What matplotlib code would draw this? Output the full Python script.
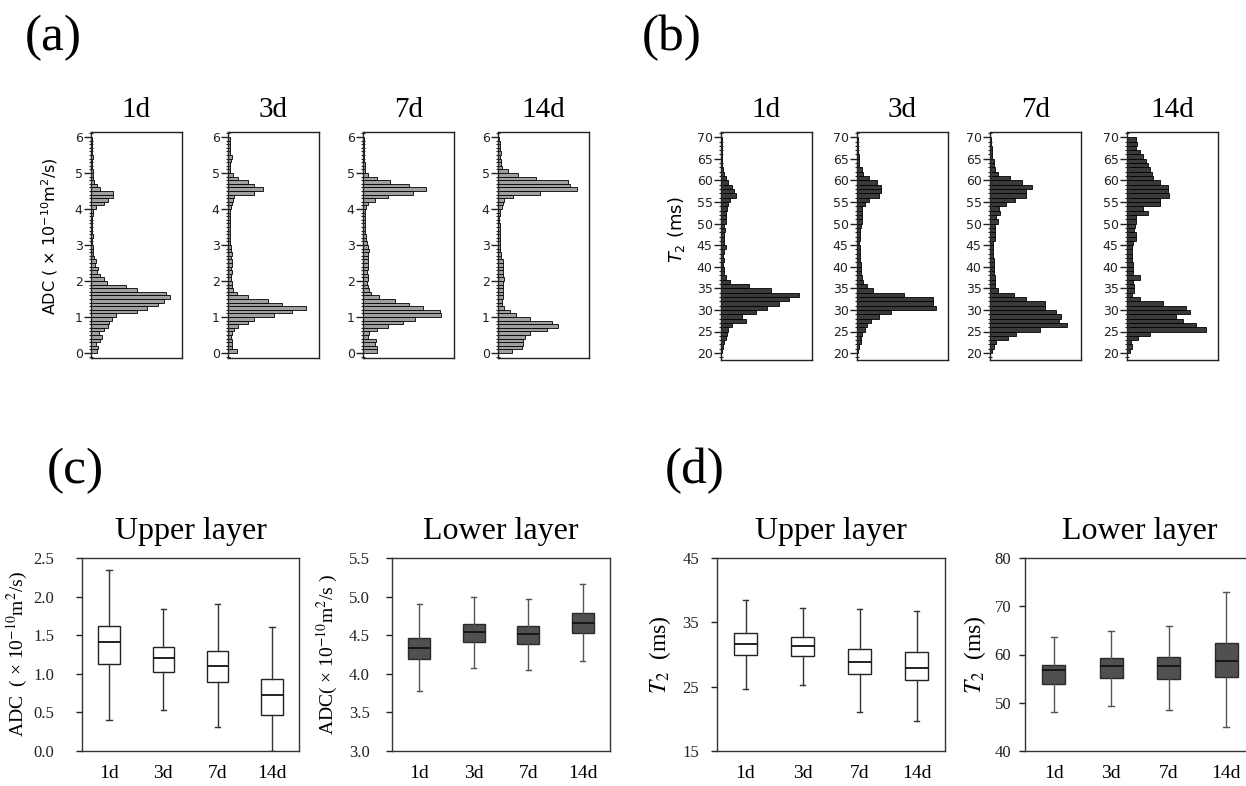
import matplotlib
matplotlib.use('Agg')
import matplotlib.pyplot as plt
import numpy as np
from matplotlib.ticker import MultipleLocator

W, H = 1246, 786
fig = plt.figure(figsize=(W / 100, H / 100), dpi=100)

SERIF = 'Liberation Serif'
SANS = 'DejaVu Sans'

days = ['1d', '3d', '7d', '14d']

# ---------------- (a) ADC histograms: bins of 0.1 from 0 to 6 ----------------
adc_bin_width = 0.1
adc_hist_1d = [7, 8, 6, 10, 12, 9, 14, 19, 20, 23,
               27, 50, 62, 74, 80, 87, 82, 50, 38, 18,
               14, 10, 7, 8, 4, 5, 3, 2, 2, 2,
               1, 1, 2, 1, 1, 1, 1, 1, 2, 2,
               5, 14, 19, 24, 24, 10, 7, 3, 2, 2,
               2, 1, 1, 1, 2, 1, 1, 1, 1, 1]
adc_hist_3d = [10, 4, 4, 4, 3, 4, 7, 11, 22, 29,
               51, 70, 86, 59, 44, 22, 10, 5, 4, 4,
               3, 3, 4, 3, 4, 4, 3, 4, 3, 3,
               2, 2, 2, 2, 2, 2, 2, 2, 2, 2,
               3, 4, 5, 7, 29, 38, 29, 22, 11, 5,
               2, 2, 2, 3, 4, 2, 2, 2, 2, 2]
adc_hist_7d = [15, 15, 13, 14, 6, 7, 15, 28, 44, 57,
               86, 85, 66, 51, 35, 18, 9, 7, 6, 4,
               5, 6, 4, 6, 5, 6, 5, 6, 7, 5,
               4, 3, 3, 2, 2, 2, 2, 2, 2, 2,
               3, 6, 13, 28, 55, 69, 51, 30, 15, 5,
               2, 2, 2, 1, 1, 1, 1, 1, 1, 1]
adc_hist_14d = [15, 26, 28, 28, 30, 35, 54, 66, 59, 35,
                20, 13, 7, 4, 4, 5, 5, 6, 5, 6,
                7, 6, 6, 5, 5, 6, 3, 3, 2, 2,
                2, 2, 2, 2, 2, 2, 1, 1, 2, 2,
                4, 5, 7, 17, 46, 87, 79, 77, 42, 22,
                11, 4, 3, 3, 2, 3, 2, 2, 2, 1]
adc_hists = [adc_hist_1d, adc_hist_3d, adc_hist_7d, adc_hist_14d]

# ---------------- (b) T2 histograms: bins of 1 ms from 20 to 70 ----------------
t2_bin_start = 20
t2_bin_width = 1.0
t2_hist_1d = [1, 2, 3, 5, 7, 8, 12, 27, 23, 38,
              51, 64, 75, 86, 55, 31, 10, 5, 3, 3,
              2, 3, 2, 3, 5, 3, 3, 3, 4, 3,
              5, 5, 6, 7, 8, 10, 17, 14, 12, 8,
              5, 3, 2, 1, 1, 1, 1, 1, 1, 1]
t2_hist_3d = [1, 2, 4, 4, 5, 9, 11, 15, 24, 37,
              87, 83, 83, 52, 18, 11, 7, 5, 4, 4,
              4, 3, 3, 3, 3, 2, 3, 3, 3, 4,
              5, 5, 6, 6, 9, 13, 24, 26, 26, 22,
              13, 7, 5, 2, 2, 2, 1, 1, 1, 1]
t2_hist_7d = [2, 4, 7, 20, 29, 55, 85, 76, 78, 72,
              60, 60, 40, 26, 9, 6, 6, 5, 4, 4,
              4, 4, 3, 3, 3, 3, 5, 5, 6, 5,
              9, 7, 11, 10, 18, 27, 40, 40, 46, 35,
              22, 9, 5, 4, 4, 2, 2, 2, 1, 1]
t2_hist_14d = [3, 5, 4, 12, 25, 87, 76, 62, 54, 69,
               65, 40, 14, 5, 8, 8, 7, 14, 7, 7,
               7, 6, 5, 5, 6, 7, 10, 10, 8, 9,
               10, 10, 23, 18, 36, 36, 46, 45, 45, 36,
               29, 28, 25, 23, 21, 18, 14, 10, 11, 10]
t2_hists = [t2_hist_1d, t2_hist_3d, t2_hist_7d, t2_hist_14d]

# ---------------- (c) ADC box plots ----------------
c_up_whislo = [0.40, 0.53, 0.31, 0.00]
c_up_q1 = [1.13, 1.02, 0.90, 0.47]
c_up_med = [1.41, 1.20, 1.10, 0.72]
c_up_q3 = [1.62, 1.35, 1.30, 0.93]
c_up_whishi = [2.34, 1.84, 1.90, 1.61]

c_lo_whislo = [3.78, 4.07, 4.05, 4.16]
c_lo_q1 = [4.19, 4.41, 4.39, 4.53]
c_lo_med = [4.34, 4.54, 4.51, 4.66]
c_lo_q3 = [4.47, 4.65, 4.62, 4.79]
c_lo_whishi = [4.90, 4.99, 4.97, 5.16]

# ---------------- (d) T2 box plots ----------------
d_up_whislo = [24.7, 25.2, 21.0, 19.65]
d_up_q1 = [29.85, 29.7, 27.0, 26.1]
d_up_med = [31.7, 31.3, 28.8, 27.9]
d_up_q3 = [33.3, 32.7, 30.9, 30.4]
d_up_whishi = [38.5, 37.2, 37.0, 36.8]

d_lo_whislo = [48.0, 49.4, 48.6, 44.9]
d_lo_q1 = [53.9, 55.2, 55.0, 55.4]
d_lo_med = [56.8, 57.6, 57.6, 58.7]
d_lo_q3 = [57.8, 59.2, 59.4, 62.4]
d_lo_whishi = [63.7, 64.9, 65.9, 73.0]


def rect(l, r, t, b):
    return [l / W, 1 - b / H, (r - l) / W, (b - t) / H]


# ---------------- top row ----------------
def hist_axes(l, r, t, b, counts, start, width, ylim, major, minor, fc, title):
    ax = fig.add_axes(rect(l, r, t, b))
    edges = start + np.arange(len(counts)) * width
    ax.barh(edges, counts, height=width, align='edge', left=0,
            color=fc, edgecolor='black', linewidth=0.6)
    ax.set_xlim(0, 100)
    ax.set_ylim(*ylim)
    ax.set_xticks([])
    ax.yaxis.set_major_locator(MultipleLocator(major))
    ax.yaxis.set_minor_locator(MultipleLocator(minor))
    ax.tick_params(axis='y', which='major', length=5, width=1, direction='out',
                   labelsize=9, pad=1, colors='#222222')
    ax.tick_params(axis='y', which='minor', length=3.5, width=0.8, direction='inout',
                   colors='#222222')
    for s in ax.spines.values():
        s.set_linewidth(1.0)
        s.set_color('#222222')
    ax.set_title(title, fontfamily=SERIF, fontsize=21, pad=11)
    for lab in ax.get_yticklabels():
        lab.set_fontfamily(SANS)
    return ax


adc_lefts = [91, 228, 363, 498]
for i, (l, cnt) in enumerate(zip(adc_lefts, adc_hists)):
    ax = hist_axes(l, l + 91, 132, 358, cnt, 0.0, adc_bin_width, (-0.14, 6.14),
                   1, 0.1, '#a0a0a0', days[i])
    if i == 0:
        ax.set_ylabel('ADC ( \u00d7 10$^{-10}$m$^{2}$/s)', fontfamily=SANS,
                      fontsize=11.5, math_fontfamily='dejavusans')
        ax.yaxis.set_label_coords(-0.34, 0.54)

t2_lefts = [721, 857, 990, 1127]
for i, (l, cnt) in enumerate(zip(t2_lefts, t2_hists)):
    ax = hist_axes(l, l + 91, 132, 360, cnt, t2_bin_start, t2_bin_width, (18.4, 71.2),
                   5, 1, '#3a3a3a', days[i])
    if i == 0:
        ax.set_ylabel('$T_2$ (ms)', fontfamily=SANS, fontsize=13,
                      math_fontfamily='dejavusans')
        ax.yaxis.set_label_coords(-0.37, 0.57)


# ---------------- bottom row ----------------
def box_axes(l, r, t, b, lo, q1, med, q3, hi, ylim, yticks, fmt, dark,
             title, ylabel, lab_size, lab_x, ypad):
    ax = fig.add_axes(rect(l, r, t, b))
    stats = [dict(whislo=a, q1=b_, med=c, q3=d, whishi=e, fliers=[], label=day)
             for a, b_, c, d, e, day in zip(lo, q1, med, q3, hi, days)]
    if dark:
        boxprops = dict(facecolor='#505050', edgecolor='#2a2a2a', linewidth=1.0)
        wcol = '#555555'
    else:
        boxprops = dict(facecolor='white', edgecolor='#222222', linewidth=1.0)
        wcol = '#333333'
    ax.bxp(stats, positions=[1, 2, 3, 4], widths=0.4, patch_artist=True,
           showfliers=False, capwidths=0.1,
           boxprops=boxprops,
           medianprops=dict(color='#111111', linewidth=1.3),
           whiskerprops=dict(color=wcol, linewidth=1.0),
           capprops=dict(color=wcol, linewidth=1.0))
    ax.set_xlim(0.5, 4.5)
    ax.set_ylim(*ylim)
    ax.set_yticks(yticks)
    ax.set_yticklabels([fmt.format(v) for v in yticks], fontfamily=SERIF, fontsize=12)
    ax.set_xticks([1, 2, 3, 4])
    ax.set_xticklabels(days, fontfamily=SERIF, fontsize=14)
    ax.tick_params(axis='x', length=0, pad=10)
    ax.tick_params(axis='y', length=4, width=1, direction='out', pad=ypad,
                   colors='#222222')
    for s in ax.spines.values():
        s.set_linewidth(1.0)
        s.set_color('#333333')
    ax.set_title(title, fontfamily=SERIF, fontsize=23, pad=14)
    ax.set_ylabel(ylabel, fontfamily=SERIF, fontsize=lab_size, math_fontfamily='stix')
    ax.yaxis.set_label_coords(lab_x, 0.5)
    return ax


box_axes(82, 299, 558, 751, c_up_whislo, c_up_q1, c_up_med, c_up_q3, c_up_whishi,
         (0, 2.5), [0.0, 0.5, 1.0, 1.5, 2.0, 2.5], '{:.1f}', False,
         'Upper layer', 'ADC  ( \u00d7 10$^{-10}$m$^{2}$/s)', 14, -0.24, 16)
box_axes(392, 610, 558, 751, c_lo_whislo, c_lo_q1, c_lo_med, c_lo_q3, c_lo_whishi,
         (3.0, 5.5), [3.0, 3.5, 4.0, 4.5, 5.0, 5.5], '{:.1f}', True,
         'Lower layer', 'ADC( \u00d7 10$^{-10}$m$^{2}$/s )', 14, -0.24, 12)
box_axes(717, 945, 558, 751, d_up_whislo, d_up_q1, d_up_med, d_up_q3, d_up_whishi,
         (15, 45), [15, 25, 35, 45], '{:.0f}', False,
         'Upper layer', '$T_2$  (ms)', 17, -0.193, 9)
box_axes(1025, 1255, 558, 751, d_lo_whislo, d_lo_q1, d_lo_med, d_lo_q3, d_lo_whishi,
         (40, 80), [40, 50, 60, 70, 80], '{:.0f}', True,
         'Lower layer', '$T_2$  (ms)', 17, -0.16, 6)

# ---------------- panel labels ----------------
for txt, x, y in [('(a)', 53, 38), ('(b)', 672, 38), ('(c)', 75, 471), ('(d)', 695, 471)]:
    fig.text(x / W, 1 - y / H, txt, fontfamily=SERIF, fontsize=37,
             ha='center', va='center')

fig.savefig('out.png', dpi=100)
